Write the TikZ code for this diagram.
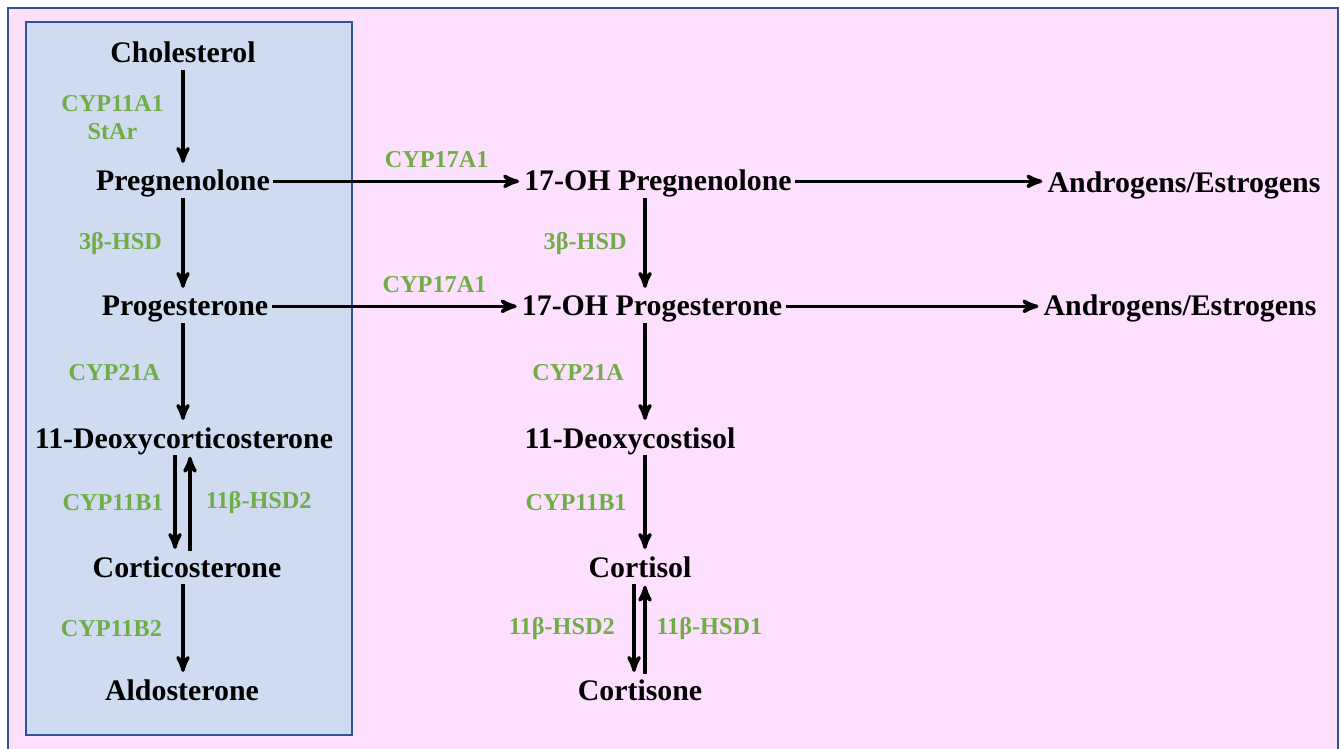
\documentclass[tikz,border=0pt]{standalone}
\usepackage{fontspec}
\setmainfont{Liberation Serif}
\usepackage{xcolor}
\usepackage{tikz}
\usetikzlibrary{arrows}

\definecolor{pinkbg}{HTML}{FDE0FD}
\definecolor{bluebg}{HTML}{CFDBF1}
\definecolor{boxline}{HTML}{2F5496}
\definecolor{enzyme}{HTML}{70AD47}

\begin{document}
\begin{tikzpicture}[x=0.02cm,y=-0.02cm,->,>=stealth',shorten >=1pt,
                    line width=2pt]
  \tikzstyle{every node}=[font=\bfseries\fontsize{17pt}{20pt}\selectfont,
                          inner xsep=1pt,inner ysep=0pt,outer sep=1pt,
                          text height=14pt,text depth=3pt,anchor=base]
  \tikzstyle{lab}=[text=enzyme,font=\bfseries\fontsize{13.8pt}{16pt}\selectfont,
                   text height=,text depth=,inner sep=0pt,align=center]

  \useasboundingbox (0,0) rectangle (1341,749);
  \clip (0,0) rectangle (1341,749);
  \fill[white] (0,0) rectangle (1341,749);
  \draw[-,draw=boxline,line width=1.4pt,fill=pinkbg] (8,8) rectangle (1338,790);
  \draw[-,draw=boxline,line width=1.2pt,fill=bluebg] (26,22) rectangle (352,735);

  % columns of the arrows
  \coordinate (lx) at (183,0);
  \coordinate (la) at (175,0);
  \coordinate (lb) at (190,0);
  \coordinate (rx) at (645,0);
  \coordinate (ra) at (634,0);

  \node (Chol)      at (183,63)  {Cholesterol};
  \node (Preg)      at (183,191) {Pregnenolone};
  \node (Prog)      at (185,316) {Progesterone};
  \node (DOC)       at (184,448) {11-Deoxycorticosterone};
  \node (Corticost) at (187,577) {Corticosterone};
  \node (Aldo)      at (182,700) {Aldosterone};

  \node (OHPreg)    at (658,191) {17-OH Pregnenolone};
  \node (OHProg)    at (652,316) {17-OH Progesterone};
  \node (Deoxycort) at (630,448) {11-Deoxycostisol};
  \node (Cortisol)  at (640,577) {Cortisol};
  \node (Cortisone) at (640,700) {Cortisone};

  \node (AndroA)    at (1184,193) {Androgens/Estrogens};
  \node (AndroB)    at (1180,316) {Androgens/Estrogens};

  \path (Chol.south -| lx) edge node[lab,left=10pt] (enzA) {CYP11A1\\StAr} (Preg.north -| lx)
        (Preg.south -| lx) edge node[lab,left=11pt] (enzB) {3β-HSD} (Prog.north -| lx)
        (Prog.south -| lx) edge node[lab,left=12pt] (enzC) {CYP21A} (DOC.north -| lx)
        (DOC.south -| la) edge node[lab,left=5.5pt] (enzD) {CYP11B1} (Corticost.north -| la)
        (Corticost.north -| lb) edge node[lab,right=8pt] (enzE) {11β-HSD2} (DOC.south -| lb)
        (Corticost.south -| lx) edge node[lab,left=11pt] (enzF) {CYP11B2} (Aldo.north -| lx);

  \path (Preg) edge node[lab,above=7pt,pos=0.66] (enzG) {CYP17A1} (OHPreg)
        (Prog) edge node[lab,above=7pt,pos=0.66] (enzH) {CYP17A1} (OHProg)
        (OHPreg) edge (AndroA.west |- OHPreg)
        (OHProg) edge (AndroB);

  \path (OHPreg.south -| rx) edge node[lab,left=9.5pt] (enzI) {3β-HSD} (OHProg.north -| rx)
        (OHProg.south -| rx) edge node[lab,left=11pt] (enzJ) {CYP21A} (Deoxycort.north -| rx)
        (Deoxycort.south -| rx) edge node[lab,left=9.5pt] (enzK) {CYP11B1} (Cortisol.north -| rx)
        (Cortisol.south -| ra) edge node[lab,left=10pt] (enzL) {11β-HSD2} (Cortisone.north -| ra)
        (Cortisone.north -| rx) edge node[lab,right=5.5pt] (enzM) {11β-HSD1} (Cortisol.south -| rx);
\end{tikzpicture}
\end{document}
